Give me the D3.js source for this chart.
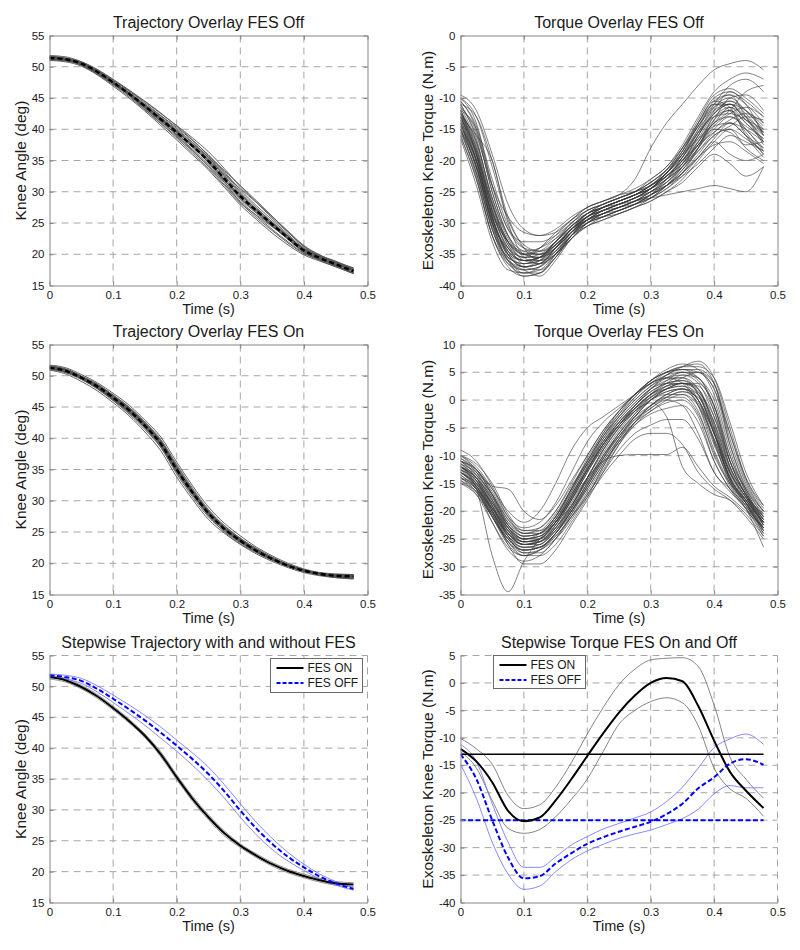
<!DOCTYPE html>
<html><head><meta charset="utf-8">
<script src="https://cdn.jsdelivr.net/npm/d3@7"></script>
<style>body{margin:0;background:#fff}svg{display:block}text{font-family:"Liberation Sans",Arial,sans-serif;fill:#1a1a1a}</style>
</head><body><svg id="c" width="800" height="950"></svg>
<script>
// ---------- DATA ----------
const times = [0,0.025,0.05,0.075,0.1,0.125,0.15,0.175,0.2,0.225,0.25,0.275,0.3,0.325,0.35,0.375,0.4,0.425,0.45,0.478];
const refSpan = [0, 0.478];
const xTicks = [0,0.1,0.2,0.3,0.4,0.5];
const angleTicks = [15,20,25,30,35,40,45,50,55];
const torqueOffTicks = [-40,-35,-30,-25,-20,-15,-10,-5,0];
const torqueOnTicks = [-35,-30,-25,-20,-15,-10,-5,0,5,10];
const stepTorqueTicks = [-40,-35,-30,-25,-20,-15,-10,-5,0,5];
const titles = ["Trajectory Overlay FES Off","Torque Overlay FES Off","Trajectory Overlay FES On","Torque Overlay FES On","Stepwise Trajectory with and without FES","Stepwise Torque FES On and Off"];
const xLabel = "Time (s)";
const angleLabel = "Knee Angle (deg)";
const torqueLabel = "Exoskeleton Knee Torque (N.m)";
const legendNames = ["FES ON","FES OFF"];

const trajOffTraces = [
 [51.4,51.2,50.5,49.2,47.5,45.7,43.7,41.7,39.6,37.4,35.0,32.2,29.3,27.0,24.8,22.6,20.6,19.4,18.4,17.3],
 [51.6,51.3,50.4,49.0,47.3,45.4,43.2,41.0,38.8,36.5,34.0,31.2,28.5,26.2,24.0,22.0,20.2,19.1,18.2,17.1],
 [51.2,51.1,50.6,49.4,47.8,46.1,44.2,42.2,40.3,38.2,35.9,33.2,30.3,27.8,25.5,23.2,21.0,19.6,18.5,17.5],
 [51.5,51.3,50.3,48.9,47.2,45.5,43.5,41.4,39.1,36.8,34.3,31.6,28.8,26.6,24.5,22.4,20.4,19.3,18.6,17.6],
 [51.3,51.0,50.4,49.3,47.6,45.9,44.0,42.1,40.1,37.9,35.6,33.0,30.0,27.5,25.1,22.9,20.8,19.5,18.3,17.0],
 [51.7,51.4,50.7,49.3,47.4,45.5,43.4,41.3,39.0,36.6,34.1,31.5,28.3,25.9,23.8,21.8,20.1,19.2,18.4,17.4],
 [51.1,50.9,50.3,49.0,47.5,45.8,43.9,41.9,39.9,37.8,35.5,32.8,30.5,28.3,25.8,23.5,21.3,19.8,18.7,17.6],
 [51.5,51.2,50.5,49.1,47.4,45.6,43.6,41.5,39.4,37.1,34.7,31.9,29.0,26.7,24.6,22.5,20.5,19.2,18.1,17.0],
 [51.4,51.3,50.6,49.3,47.6,45.8,43.8,41.8,39.8,37.5,35.2,32.5,29.6,27.2,24.9,22.8,20.8,19.6,18.7,17.8],
 [51.6,51.3,50.5,49.2,47.5,45.6,43.4,41.2,39.2,37.2,34.9,32.0,29.0,26.9,24.9,22.9,20.9,19.7,18.8,17.5],
 [51.2,51.0,50.4,49.1,47.4,45.6,43.7,41.8,39.7,37.3,34.6,31.8,29.4,27.3,25.2,23.0,20.7,19.3,18.2,17.1],
 [51.5,51.2,50.5,49.2,47.6,45.8,43.8,41.6,39.5,37.6,35.4,32.6,29.8,27.1,24.6,22.4,20.3,19.0,18.0,16.9],
 [51.8,51.6,50.8,49.5,47.9,46.2,44.4,42.5,40.6,38.6,36.4,33.7,30.8,28.4,26.0,23.7,21.4,19.9,18.8,17.8],
 [51.0,50.8,50.1,48.7,46.9,45.0,42.9,40.6,38.3,35.9,33.5,30.7,27.9,25.6,23.4,21.5,19.9,18.9,18.0,16.9],
 [51.3,51.1,50.2,48.8,47.1,45.2,43.1,40.9,38.6,36.2,33.7,31.0,28.2,26.3,24.4,22.6,20.9,19.8,18.9,17.7],
 [51.6,51.4,50.8,49.6,48.0,46.3,44.5,42.6,40.5,38.3,35.8,33.4,31.0,28.6,26.1,23.6,21.2,19.6,18.5,17.3]
];
const trajOffMean = [51.4,51.2,50.5,49.2,47.5,45.7,43.7,41.6,39.5,37.3,34.9,32.1,29.3,27.0,24.8,22.6,20.6,19.4,18.4,17.3];

const trajOnTraces = [
 [51.3,50.8,49.7,48.3,46.5,44.5,42.0,39.1,35.0,31.3,28.0,25.5,23.6,22.0,20.7,19.6,18.8,18.3,18.0,17.9],
 [51.5,51.0,49.9,48.5,46.8,44.8,42.4,39.6,35.6,31.8,28.4,25.8,23.9,22.2,20.9,19.8,18.9,18.2,17.8,17.7],
 [51.1,50.6,49.5,48.0,46.1,44.1,41.6,38.6,34.5,30.9,27.7,25.3,23.4,21.8,20.5,19.5,18.7,18.2,17.9,17.8],
 [51.4,50.9,49.8,48.4,46.6,44.7,42.3,39.5,35.3,31.5,28.1,25.6,23.7,22.1,20.8,19.7,18.9,18.4,18.1,18.0],
 [51.2,50.7,49.6,48.1,46.3,44.3,41.8,38.8,34.7,31.0,27.8,25.4,23.5,21.9,20.6,19.5,18.7,18.1,17.8,17.8],
 [51.6,51.1,49.9,48.6,46.9,45.0,42.6,39.8,35.8,32.0,28.6,26.0,24.0,22.3,20.9,19.8,19.0,18.4,18.1,18.1],
 [51.0,50.5,49.4,47.9,46.0,43.9,41.4,38.5,34.3,30.6,27.4,25.1,23.3,21.8,20.6,19.6,18.8,18.3,17.9,17.6],
 [51.3,50.8,49.8,48.4,46.6,44.6,42.1,39.2,35.1,31.4,28.2,25.7,23.8,22.2,20.8,19.6,18.7,18.2,17.9,17.9],
 [51.4,50.9,49.6,48.0,46.2,44.2,41.7,38.9,34.8,31.2,28.0,25.6,23.7,22.0,20.6,19.5,18.8,18.4,18.2,18.2],
 [51.2,50.8,49.8,48.5,46.8,44.9,42.5,39.6,35.4,31.6,28.3,25.7,23.7,22.0,20.7,19.7,18.9,18.3,17.9,17.6],
 [51.5,51.0,49.8,48.3,46.4,44.4,41.9,39.0,34.9,31.2,28.0,25.4,23.5,21.9,20.7,19.7,18.9,18.4,18.1,18.0],
 [51.3,50.7,49.6,48.2,46.4,44.5,42.1,39.2,35.1,31.3,27.9,25.4,23.5,22.0,20.7,19.6,18.8,18.3,17.9,17.7],
 [51.7,51.3,50.2,48.9,47.2,45.3,42.9,40.2,36.2,32.4,29.0,26.4,24.4,22.6,21.2,20.0,19.1,18.5,18.2,18.2],
 [50.9,50.3,49.1,47.6,45.7,43.6,41.0,38.0,33.8,30.2,27.0,24.8,23.0,21.5,20.3,19.3,18.5,18.0,17.7,17.5],
 [51.5,51.1,50.0,48.7,46.9,44.9,42.3,39.3,35.0,31.1,27.6,25.0,23.1,21.7,20.5,19.6,18.9,18.5,18.3,18.2],
 [51.1,50.6,49.6,48.1,46.2,44.1,41.8,39.1,35.2,31.6,28.4,26.0,24.0,22.4,21.0,19.8,18.9,18.2,17.7,17.5]
];
const trajOnMean = [51.3,50.8,49.7,48.3,46.5,44.5,42.0,39.1,35.0,31.3,28.0,25.5,23.6,22.0,20.7,19.6,18.8,18.3,18.0,17.9];

const torqueOffTraces = [
 [-12,-18,-28,-34,-36,-35.5,-33,-31,-29.5,-28.5,-27.5,-26.5,-25,-23.5,-21,-17,-13,-11.5,-13,-15.5],
 [-14,-21,-30,-36,-37.5,-37,-34.5,-31.5,-29,-28,-27,-26,-24.5,-22.5,-20,-16.5,-12.5,-10.5,-12.5,-16],
 [-10,-14,-24,-31,-34,-34.5,-33,-30.5,-28.5,-27.5,-26.5,-25.5,-24,-22,-19.5,-15.5,-11,-8,-7,-9],
 [-16,-23,-32,-37,-38.5,-38,-35.5,-32,-29.5,-28.5,-27.5,-27,-26,-24.5,-22.5,-19.5,-16.5,-14,-15,-17],
 [-13,-19,-27,-33,-35,-34.5,-32.5,-30,-28,-27,-26,-25,-23,-21,-18,-14.5,-11,-9.5,-11,-14],
 [-11,-13,-20,-29,-34,-36,-35,-32.5,-30,-28.5,-27.5,-26.5,-25,-23.5,-21,-18,-15,-13,-15,-18.5],
 [-15,-22,-31,-35.5,-36.5,-36,-34,-31.5,-29.5,-28,-27,-26,-24.5,-22,-19,-14,-10,-9,-10.5,-13],
 [-12.5,-17,-26,-32,-34.5,-35,-33.5,-31,-28.5,-27,-26,-25,-23.5,-21.5,-18.5,-14.5,-11,-12,-15.5,-19],
 [-14.5,-20,-29,-35,-37,-36.5,-34,-31,-29,-28,-27,-26,-25,-24,-22.5,-20.5,-18,-16,-17,-18.5],
 [-12,-19,-28,-33,-35,-34,-32,-29.5,-27.5,-26.5,-25.5,-23,-18,-14,-11,-8,-5.5,-4.5,-4,-5.5],
 [-13.5,-20,-28.5,-34,-36,-35.5,-33,-30,-28.5,-27.5,-27,-26.5,-26,-25.5,-25,-24.5,-24,-24.5,-25,-21],
 [-9.5,-12,-19,-27,-31,-32,-31.5,-29.5,-27.5,-26.5,-25.5,-24.5,-23,-21,-17.5,-13,-9,-7,-6,-7],
 [-16.5,-24,-33,-37.5,-38,-37,-34,-31,-29.5,-29,-28.5,-27.5,-26.5,-25,-23,-20,-17,-15,-18,-20],
 [-13,-16,-20,-30,-35,-35.5,-33.5,-31.5,-30,-29,-28,-27,-25.5,-23.5,-20.5,-16,-12.5,-11,-13,-17],
 [-11.5,-17,-26,-32.5,-35,-35,-33.5,-31,-29,-27.5,-26.5,-25.5,-24,-22.5,-20,-17,-14,-12,-9,-8],
 [-14,-21.5,-31,-36.5,-38,-37.5,-35,-32,-30,-29,-28,-27,-26,-24,-21,-17.5,-14.5,-14,-16,-19],
 [-12,-15,-24,-31,-33,-33,-32,-30,-28,-27,-26,-25,-24,-22,-19,-15,-12,-11,-12,-14.5],
 [-15,-21,-30,-35,-36,-36,-34.5,-32,-30.5,-29.5,-28.5,-27.5,-26,-24,-21.5,-18.5,-15.5,-13.5,-12.5,-14],
 [-10.5,-15,-25,-32,-35.5,-36.5,-35,-32.5,-30.5,-29,-28,-27,-25.5,-24,-21.5,-18,-13.5,-10,-9.5,-12],
 [-13,-19.5,-29,-34.5,-36,-35.5,-33,-30.5,-29,-28,-27.5,-26.5,-25.5,-24,-22,-19.5,-17,-19,-20,-19],
 [-12,-18.5,-27.5,-33.5,-36.5,-36,-34,-31.5,-29,-27.5,-26.5,-25.5,-24,-22,-19.5,-16,-12,-9,-11,-16],
 [-14,-20.5,-30,-34,-35.5,-34,-31.5,-29.5,-28,-27,-26,-25,-23.5,-21.5,-19,-16.5,-14,-11.5,-14,-16.5],
 [-11,-16,-24,-29,-31.5,-32,-31,-29,-27.5,-26.5,-25.5,-25,-24,-22.5,-20.5,-17.5,-15.5,-14,-16,-18],
 [-15.5,-22,-31,-36,-37.5,-38.5,-36,-32.5,-30.5,-29.5,-28.5,-27.5,-26.5,-25,-23.5,-21,-19,-20.5,-22.5,-21],
 [-13,-19,-29,-35,-37,-36,-33.5,-31,-29,-27.5,-26.5,-25.5,-24.5,-23,-20.5,-17,-13.5,-12,-14,-17],
 [-11,-16.5,-26.5,-33,-35.5,-35.5,-34,-31.5,-29.5,-28,-27,-26,-25,-23,-20,-16,-11.5,-10,-12,-15],
 [-14.5,-21,-30.5,-35.5,-36.5,-35.5,-33,-30.5,-28.5,-27.5,-26.5,-25.5,-24.5,-22.5,-20,-17.5,-15,-15.5,-17.5,-17],
 [-12.5,-18,-27,-33,-36,-36.5,-35,-32,-29.5,-28,-27,-26,-24.5,-22.5,-19.5,-15,-10.5,-9.5,-13,-17.5],
 [-15,-22.5,-32,-36.5,-37.5,-37,-35,-32,-30,-29,-28,-27,-25.5,-23,-19.5,-15.5,-12.5,-11,-13.5,-15.5],
 [-10,-13,-21,-29.5,-33.5,-34.5,-33.5,-31,-29,-27.5,-26.5,-25.5,-24.5,-23,-21,-18,-14.5,-12.5,-11.5,-13],
 [-13.5,-20,-29.5,-35,-37,-36.5,-34,-31,-28.5,-27.5,-26.5,-25.5,-24,-22,-18.5,-14,-10.5,-11.5,-16,-19.5],
 [-12,-17.5,-27,-33.5,-35.5,-35,-33,-30.5,-28.5,-27.5,-26.5,-25.5,-24.5,-22.5,-20.5,-17.5,-14,-13,-14.5,-16.5],
 [-16,-23,-32,-36,-37,-36.5,-34.5,-32,-30,-28.5,-27.5,-26.5,-25.5,-24,-22,-19,-16,-15,-16.5,-18.5],
 [-11.5,-15.5,-25,-32,-35,-35.5,-34,-31.5,-29.5,-28,-27,-26,-24.5,-22,-19,-15.5,-13,-12.5,-13.5,-15],
 [-13,-18.5,-28,-34.5,-37,-37.5,-35.5,-32,-29.5,-28.5,-27.5,-26.5,-25,-23,-21,-18.5,-16,-14.5,-13,-13.5],
 [-14,-20,-28.5,-33,-34.5,-34,-32.5,-30.5,-28.5,-27,-26,-25,-23.5,-21.5,-18,-13.5,-9.5,-8.5,-10,-12.5],
 [-12.5,-19,-29,-35.5,-38,-38,-35.5,-32.5,-30,-28.5,-27.5,-26.5,-25.5,-24,-22,-19.5,-17.5,-17,-18.5,-20.5],
 [-15,-21,-29.5,-34.5,-36,-35.5,-33.5,-31,-29,-28,-27,-26,-24.5,-22,-18.5,-14.5,-11.5,-10.5,-12,-15.5],
 [-10.5,-14.5,-23,-30.5,-34,-35,-34,-31.5,-29,-27.5,-26.5,-25.5,-24,-21.5,-18,-14,-11,-11,-13.5,-16],
 [-13,-20,-30,-36,-38.5,-38,-35,-31.5,-29.5,-28.5,-28,-27,-26,-24.5,-22,-18,-13,-12,-15,-18]
];

const torqueOnTraces = [
 [-12,-14,-18,-23,-25.5,-25,-22,-17.5,-12.5,-8,-4,-1,1.5,3,3.5,1,-6,-14,-18,-22],
 [-11,-13.5,-17,-22,-24.5,-24,-21,-16,-11,-6.5,-3,0,2.5,4,4.5,3,-3,-12,-17,-21],
 [-13,-15.5,-20,-25,-27,-26.5,-24,-20,-15,-10.5,-6.5,-3,0,1.5,2,-1,-8,-14.5,-19,-23.5],
 [-10,-12,-16,-21,-23,-22,-18.5,-13,-7.5,-4,-1.5,1,3.5,5,5.5,4,0,-10,-16.5,-21],
 [-14,-16.5,-21,-25.5,-27.5,-27,-24.5,-21,-17,-13,-9,-6,-4.5,-3.5,-3.5,-7,-13,-16.5,-19.5,-23],
 [-12,-16,-28,-34.5,-29,-25,-22,-19,-14,-9,-5,-2,0,1,1,-2,-10,-15,-18,-22.5],
 [-13,-15,-19,-23.5,-25.5,-25,-22,-18,-14,-11,-10,-9.8,-9.8,-9.8,-8.5,-12,-15.5,-17.5,-20,-23],
 [-11.5,-13,-16,-20,-22,-20,-15,-9,-5,-3,-1,1,3,4.5,5,3.5,-1,-11,-17,-20.5],
 [-12.5,-14.5,-19,-24,-26,-25.5,-23,-19,-14.5,-10,-6,-2.5,0.5,2.5,4,5,3,-8,-16,-21.5],
 [-9,-11,-15.5,-21,-24,-24,-21.5,-17,-12,-7,-3,0.5,3,5,6,6.5,3,-7,-15,-20],
 [-14.5,-17,-22,-26.5,-28,-27,-25,-21.5,-17,-12.5,-8,-4.5,-2,-0.5,0,-3,-11,-16,-19.5,-24],
 [-11,-12.5,-15.5,-16,-20,-21.5,-19,-14.5,-10,-5.5,-2,1,3,4,3,-1,-9,-15,-18.5,-22],
 [-13.5,-16,-21,-25,-26.5,-26,-23.5,-19,-14,-9,-5,-1.5,1,2,2.5,0,-6,-13,-17.5,-22.5],
 [-12,-14,-17.5,-22,-24,-23,-20,-15.5,-11,-6,-2.5,0.5,3.5,5.5,6.5,5.5,2,-6,-14,-19],
 [-15,-17,-21,-25,-27,-26.5,-24.5,-21,-17.5,-13.5,-10,-7,-6,-6,-8,-13,-16,-18,-21,-25],
 [-10.5,-12.5,-17,-22.5,-25,-24.5,-22,-17.5,-12.5,-8,-4.5,-1.5,1,3,4.5,4,-2,-12,-17,-21.5],
 [-12,-14.5,-19.5,-24.5,-26.5,-26.5,-24,-20,-15.5,-11,-7,-4,-2,0,1,-1,-7,-14,-18.5,-23],
 [-13,-15,-18.5,-22.5,-24.5,-24,-21.5,-17,-12,-7.5,-4,-1,2,4.5,6,7,4,-5,-14,-19.5],
 [-11.5,-14,-19,-24,-26,-26,-23,-19.5,-15,-10,-6.5,-3.5,-1.5,0,-1,-6,-13,-16,-19,-23.5],
 [-12.5,-15.5,-20.5,-25.5,-28,-28,-26,-22,-17.5,-12,-7,-3,0,2,3,2,-5,-13.5,-18,-22],
 [-14,-15.5,-19.5,-23.5,-25,-24,-21,-16,-10.5,-6,-2,1,3,4,4,1,-6,-14,-18,-22],
 [-10,-11.5,-15,-20.5,-23.5,-23.5,-21,-16,-11.5,-7.5,-4,-1.5,0.5,2,3,3,-1,-10,-16,-20.5],
 [-12,-14.5,-20,-26,-29.5,-29.5,-27,-22.5,-18,-13,-8,-4,-1,1,2,0,-7,-14,-18.5,-23],
 [-13,-15.5,-20,-24,-25.5,-25,-22,-17,-12.5,-8,-4.5,-2,-0.5,-3,-12,-15,-17,-18,-20.5,-24.5],
 [-11,-13.5,-18.5,-23.5,-25.5,-25.5,-23,-18.5,-14,-9.5,-5.5,-2,1,3.5,5,5,1,-9,-16.5,-21],
 [-15,-16.5,-20.5,-24,-26,-25.5,-23.5,-20,-16,-11.5,-7.5,-4,-1,0.5,0.5,-2.5,-9.5,-15.5,-19.5,-26.5],
 [-12.5,-15,-19.5,-24,-26,-25.5,-22.5,-18,-13,-8.5,-4.5,-1,2,4,5,4,-1,-11,-17,-21.5],
 [-11,-13,-17.5,-23,-25.5,-25,-22.5,-18,-13,-8,-4,-1,1.5,3,3.5,2,-4,-12.5,-17.5,-22],
 [-13.5,-16,-20.5,-25,-27,-26.5,-24,-20,-15.5,-11,-7,-3.5,-1,1,2,1,-5,-13,-18,-23],
 [-10,-12.5,-17,-22.5,-25,-24.5,-21.5,-16.5,-11.5,-6.5,-2.5,1,3.5,5,5.5,5,2,-8,-15.5,-20],
 [-14,-16,-20,-24.5,-26.5,-26,-23.5,-19.5,-15,-10.5,-6.5,-3,0,2,3,1.5,-4,-12,-17,-22],
 [-12,-14,-18,-22.5,-24.5,-24,-21,-16.5,-11.5,-7,-3.5,-0.5,2,3.5,4,2,-4.5,-13,-17.5,-21.5],
 [-11.5,-14,-19,-24.5,-27.5,-27.5,-25,-21,-16.5,-12,-7.5,-4,-1.5,0.5,1.5,0.5,-5.5,-14,-18.5,-24],
 [-13,-15.5,-21,-26,-28,-27,-24,-19.5,-14,-9,-5,-2,0.5,2,2.5,1,-6,-14.5,-18.5,-22.5],
 [-12,-13.5,-17,-21.5,-23.5,-23,-20,-15,-10,-5.5,-2,1,3.5,5,6,6,4,-4,-13,-19],
 [-14.5,-16.5,-21,-25.5,-27,-26.5,-24,-20.5,-16,-11.5,-7.5,-4.5,-2.5,-1.5,-1,-4,-11,-16,-19.5,-24.5],
 [-10.5,-13,-18,-23.5,-26,-25.5,-22.5,-18,-13,-8.5,-4.5,-1.5,1,2.5,3,1.5,-3,-11,-16,-21],
 [-12.5,-14.5,-18.5,-23,-25,-24.5,-22,-17.5,-12.5,-7.5,-3.5,-0.5,2,3,3,0,-7.5,-15,-19,-23],
 [-13,-16,-22,-27,-29,-28,-25,-20.5,-15.5,-10.5,-6,-2.5,0,1.5,2,0,-6,-13,-17.5,-22],
 [-11,-12.5,-16.5,-21.5,-24,-23.5,-20.5,-16,-11,-6.5,-3,0,2.5,4.5,5.5,5.5,3,-6,-14.5,-20],
 [-12,-15,-20,-24.5,-26,-25,-22,-17.5,-12.5,-8,-4.5,-1.5,1,2.5,3,2.5,-2,-11,-17,-22.5],
 [-14,-16,-19.5,-23,-25,-25,-23,-19,-14.5,-10,-6,-3,-1,0.5,1.5,-0.5,-7.5,-14.5,-18.5,-23.5]
];

const stepAngleOnMean  = [51.5,51.0,49.9,48.4,46.5,44.4,42.0,39.0,35.3,31.8,28.8,26.2,24.2,22.6,21.2,20.1,19.3,18.6,18.1,17.9];
const stepAngleOnUpper = [51.8,51.3,50.2,48.7,46.8,44.7,42.3,39.4,35.7,32.2,29.2,26.6,24.5,22.9,21.5,20.4,19.6,18.9,18.4,18.2];
const stepAngleOnLower = [51.2,50.7,49.6,48.1,46.2,44.1,41.7,38.6,34.9,31.4,28.4,25.8,23.9,22.3,20.9,19.8,19.0,18.3,17.8,17.6];
const stepAngleOffMean  = [51.8,51.5,50.9,49.6,48.0,46.3,44.5,42.5,40.4,38.2,35.8,33.0,29.9,27.0,24.5,22.4,20.7,19.2,18.1,17.2];
const stepAngleOffUpper = [52.0,51.8,51.3,50.1,48.6,47.0,45.3,43.4,41.3,39.2,36.9,34.1,31.0,28.0,25.4,23.1,21.2,19.6,18.4,17.4];
const stepAngleOffLower = [51.6,51.2,50.5,49.1,47.4,45.6,43.7,41.6,39.5,37.2,34.7,31.9,28.8,26.0,23.6,21.7,20.2,18.8,17.8,17.0];

const stepTorqueOnMean  = [-12,-14.3,-18.1,-23.3,-25.2,-24.5,-21.4,-17.5,-13.3,-9.2,-5.4,-2.3,0,0.9,0.3,-4.2,-10.5,-16.2,-19.6,-22.8];
const stepTorqueOnUpper = [-10.1,-12,-14.8,-20.5,-22.9,-22.2,-19,-14.5,-9.3,-4.5,-0.3,2.5,4.2,4.5,4.6,3.0,-4,-13.5,-17.5,-21];
const stepTorqueOnLower = [-12.5,-15.5,-21.4,-26.5,-27.4,-26.7,-24.4,-21.2,-17.5,-12.5,-7.5,-5.0,-3.4,-2.7,-3.6,-7.8,-15.5,-19.3,-21,-24.3];
const stepTorqueOffMean  = [-13,-17.5,-25,-31.8,-35.6,-35.2,-32.9,-31,-29.3,-28.1,-27.1,-26.2,-25.3,-23.9,-22,-19.2,-17.2,-14.7,-13.9,-14.9];
const stepTorqueOffUpper = [-11.2,-14.3,-22,-29,-33.6,-33.6,-31.7,-29.5,-28,-26.6,-25.6,-24.6,-23.5,-21.6,-19,-15.5,-11.8,-10.2,-9.3,-11.2];
const stepTorqueOffLower = [-14.8,-21,-29,-34.8,-37.6,-37,-34.4,-32.2,-30.6,-29.4,-28.3,-27.5,-26.8,-25.8,-24.7,-23,-20.2,-18.7,-19.1,-19.1];
const torqueOnLevel = -13;
const torqueOffLevel = -25;

// ---------- DRAWING ----------
const svg = d3.select('#c');
const fmt = v => String(v);
const FONT = '"Liberation Sans",Arial,sans-serif';
const AXIS = '#858585', GRID = '#a6a6a6';
let clipId = 0;

function panel(o) {
  const x = d3.scaleLinear().domain([0, 0.5]).range([o.left, o.right]);
  const y = d3.scaleLinear().domain([o.yTicks[0], o.yTicks[o.yTicks.length - 1]]).range([o.bottom, o.top]);
  const g = svg.append('g');
  const gx = o.box ? xTicks.slice(1, -1) : xTicks.slice(1);
  const gy = o.box ? o.yTicks.slice(1, -1) : o.yTicks.slice(1);
  g.selectAll(null).data(gx).join('line')
    .attr('x1', d => x(d)).attr('x2', d => x(d)).attr('y1', o.top).attr('y2', o.bottom)
    .attr('stroke', GRID).attr('stroke-dasharray', '7,5');
  g.selectAll(null).data(gy).join('line')
    .attr('y1', d => y(d)).attr('y2', d => y(d)).attr('x1', o.left).attr('x2', o.right)
    .attr('stroke', GRID).attr('stroke-dasharray', '7,5');
  const id = 'clip' + (clipId++);
  g.append('clipPath').attr('id', id).append('rect')
    .attr('x', o.left).attr('y', o.top).attr('width', o.right - o.left).attr('height', o.bottom - o.top);
  const data = g.append('g').attr('clip-path', `url(#${id})`);
  o.draw(data, x, y);

  const style = sel => {
    sel.selectAll('path.domain').attr('stroke', AXIS);
    sel.selectAll('.tick line').attr('stroke', AXIS);
    sel.selectAll('.tick text').attr('font-size', 11.5).attr('font-family', FONT).attr('fill', '#1a1a1a');
  };
  g.append('g').attr('transform', `translate(0,${o.bottom})`)
    .call(d3.axisBottom(x).tickValues(xTicks).tickFormat(fmt).tickSizeInner(-4).tickSizeOuter(0).tickPadding(5)).call(style);
  g.append('g').attr('transform', `translate(${o.left},0)`)
    .call(d3.axisLeft(y).tickValues(o.yTicks).tickFormat(fmt).tickSizeInner(-4).tickSizeOuter(0).tickPadding(5)).call(style);
  if (o.box) {
    g.append('g').attr('transform', `translate(0,${o.top})`)
      .call(d3.axisTop(x).tickValues(xTicks).tickFormat('').tickSizeInner(-4).tickSizeOuter(0)).call(style);
    g.append('g').attr('transform', `translate(${o.right},0)`)
      .call(d3.axisRight(y).tickValues(o.yTicks).tickFormat('').tickSizeInner(-4).tickSizeOuter(0)).call(style);
  }
  svg.selectAll('.domain').attr('fill', 'none');

  g.append('text').attr('x', (o.left + o.right) / 2).attr('y', o.top - 8)
    .attr('text-anchor', 'middle').attr('font-size', 16).text(o.title);
  g.append('text').attr('x', (o.left + o.right) / 2).attr('y', o.bottom + 28.5)
    .attr('text-anchor', 'middle').attr('font-size', 14.5).text(xLabel);
  g.append('text').attr('transform', `translate(${o.ylx},${(o.top + o.bottom) / 2}) rotate(-90)`)
    .attr('dy', '0.35em').attr('text-anchor', 'middle').attr('font-size', 15.5).text(o.ylabel);
  if (o.legend) {
    const L = o.legend;
    const lg = g.append('g');
    lg.append('rect').attr('x', L.x).attr('y', L.y).attr('width', L.w).attr('height', L.h)
      .attr('fill', '#fff').attr('stroke', '#6a6a6a');
    legendNames.forEach((name, i) => {
      const yy = L.y + 9.5 + i * 15;
      lg.append('line').attr('x1', L.x + 6).attr('x2', L.x + 33).attr('y1', yy).attr('y2', yy)
        .attr('stroke', i === 0 ? '#000' : '#0000ff').attr('stroke-width', 2)
        .attr('stroke-dasharray', i === 0 ? null : '4,2');
      lg.append('text').attr('x', L.x + 37).attr('y', yy).attr('dy', '0.35em')
        .attr('font-size', 12).text(name);
    });
  }
}

const lineGen = (x, y) => d3.line().x((d, i) => x(times[i])).y(d => y(d)).curve(d3.curveMonotoneX);

function overlayTraj(traces, mean) {
  return (g, x, y) => {
    const L = lineGen(x, y);
    g.selectAll(null).data(traces).join('path').attr('d', L)
      .attr('fill', 'none').attr('stroke', '#555').attr('stroke-width', 0.9);
    g.append('path').attr('d', L(mean)).attr('fill', 'none').attr('stroke', '#000')
      .attr('stroke-width', 2.4).attr('stroke-dasharray', '5,3');
  };
}
function overlayTorque(traces) {
  return (g, x, y) => {
    const L = lineGen(x, y);
    g.selectAll(null).data(traces).join('path').attr('d', L)
      .attr('fill', 'none').attr('stroke', '#3a3a3a').attr('stroke-width', 0.7).attr('stroke-opacity', 0.9);
  };
}

const COLL = 49.5, COLR = 367.5, CORL = 460.5, CORR = 777.5;
panel({left: COLL, right: COLR, top: 35.5, bottom: 285.5, yTicks: angleTicks, box: true,
  title: titles[0], ylabel: angleLabel, ylx: 21, draw: overlayTraj(trajOffTraces, trajOffMean)});
panel({left: CORL, right: CORR, top: 35.5, bottom: 285.5, yTicks: torqueOffTicks, box: true,
  title: titles[1], ylabel: torqueLabel, ylx: 428, draw: overlayTorque(torqueOffTraces)});
panel({left: COLL, right: COLR, top: 344.5, bottom: 594.5, yTicks: angleTicks, box: true,
  title: titles[2], ylabel: angleLabel, ylx: 21, draw: overlayTraj(trajOnTraces, trajOnMean)});
panel({left: CORL, right: CORR, top: 344.5, bottom: 594.5, yTicks: torqueOnTicks, box: true,
  title: titles[3], ylabel: torqueLabel, ylx: 428, draw: overlayTorque(torqueOnTraces)});

panel({left: COLL, right: COLR, top: 655.5, bottom: 902.5, yTicks: angleTicks, box: false,
  title: titles[4], ylabel: angleLabel, ylx: 21,
  legend: {x: 270.5, y: 658.5, w: 92, h: 34},
  draw: (g, x, y) => {
    const L = lineGen(x, y);
    [stepAngleOnUpper, stepAngleOnLower].forEach(s => g.append('path').attr('d', L(s)).attr('fill', 'none').attr('stroke', '#777').attr('stroke-width', 0.8));
    [stepAngleOffUpper, stepAngleOffLower].forEach(s => g.append('path').attr('d', L(s)).attr('fill', 'none').attr('stroke', '#6b6bff').attr('stroke-width', 0.8));
    g.append('path').attr('d', L(stepAngleOnMean)).attr('fill', 'none').attr('stroke', '#000').attr('stroke-width', 2);
    g.append('path').attr('d', L(stepAngleOffMean)).attr('fill', 'none').attr('stroke', '#0000ff').attr('stroke-width', 2).attr('stroke-dasharray', '5,2.5');
  }});

panel({left: CORL, right: CORR, top: 655.5, bottom: 902.5, yTicks: stepTorqueTicks, box: false,
  title: titles[5], ylabel: torqueLabel, ylx: 428,
  legend: {x: 493.5, y: 655.5, w: 92, h: 33},
  draw: (g, x, y) => {
    const L = lineGen(x, y);
    [stepTorqueOnUpper, stepTorqueOnLower].forEach(s => g.append('path').attr('d', L(s)).attr('fill', 'none').attr('stroke', '#666').attr('stroke-width', 0.8));
    [stepTorqueOffUpper, stepTorqueOffLower].forEach(s => g.append('path').attr('d', L(s)).attr('fill', 'none').attr('stroke', '#6b6bff').attr('stroke-width', 0.8));
    g.append('line').attr('x1', x(refSpan[0])).attr('x2', x(refSpan[1])).attr('y1', y(torqueOnLevel)).attr('y2', y(torqueOnLevel))
      .attr('stroke', '#000').attr('stroke-width', 1.6);
    g.append('line').attr('x1', x(refSpan[0])).attr('x2', x(refSpan[1])).attr('y1', y(torqueOffLevel)).attr('y2', y(torqueOffLevel))
      .attr('stroke', '#0000ff').attr('stroke-width', 2).attr('stroke-dasharray', '5,2.5');
    g.append('path').attr('d', L(stepTorqueOnMean)).attr('fill', 'none').attr('stroke', '#000').attr('stroke-width', 2);
    g.append('path').attr('d', L(stepTorqueOffMean)).attr('fill', 'none').attr('stroke', '#0000ff').attr('stroke-width', 2).attr('stroke-dasharray', '5,2.5');
  }});
</script></body></html>
